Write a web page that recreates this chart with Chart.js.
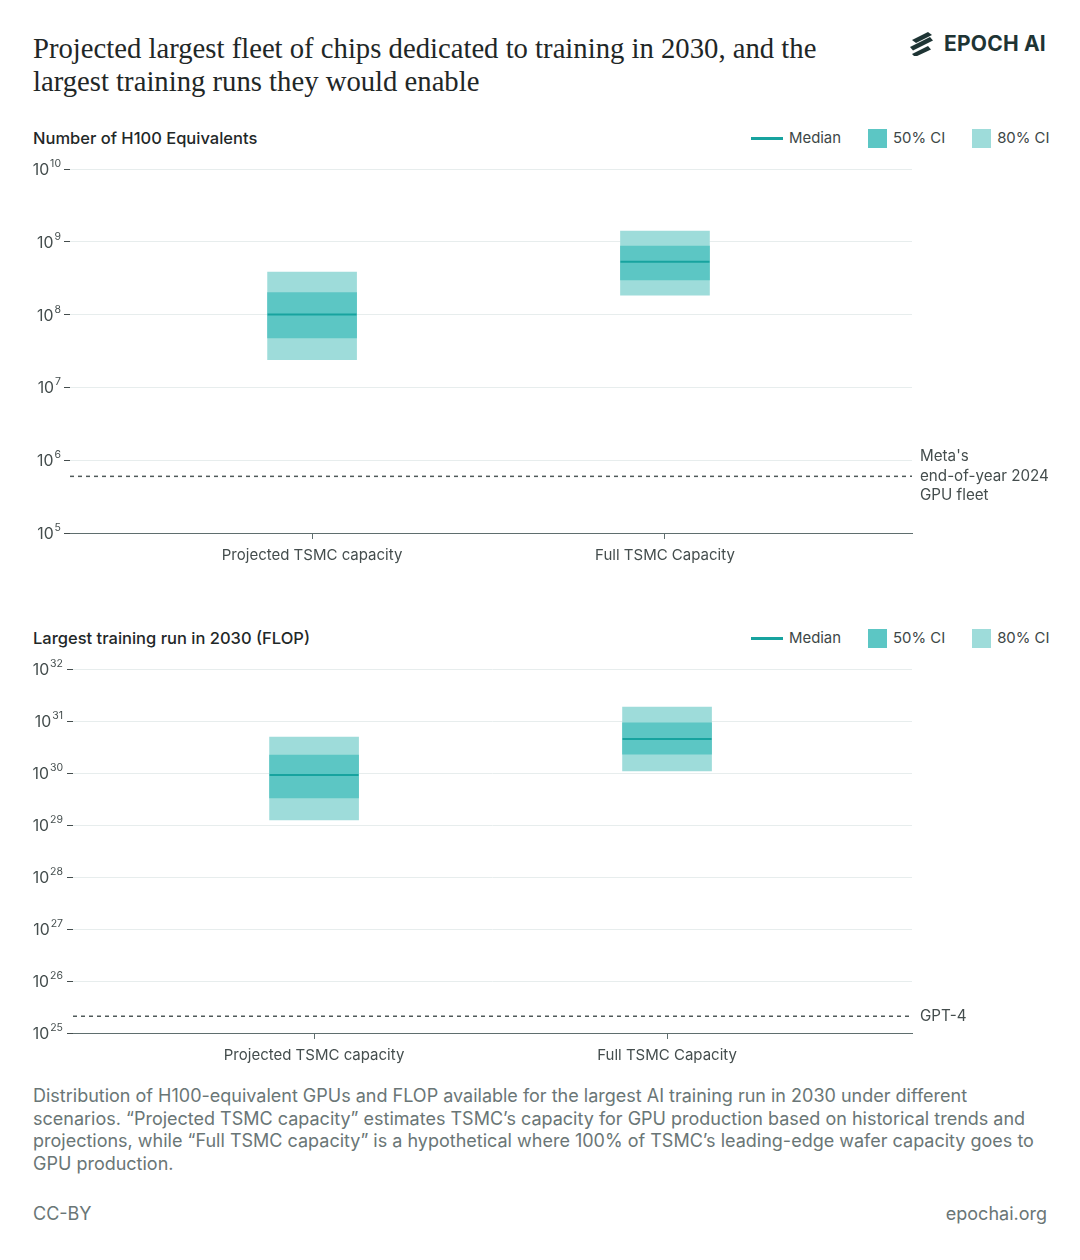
<!DOCTYPE html>
<html>
<head>
<meta charset="utf-8">
<script src="https://cdn.jsdelivr.net/npm/chart.js@4.4.1/dist/chart.umd.min.js"></script>
<style>
  body { margin:0; background:#fff; width:1080px; height:1260px; position:relative; overflow:hidden;
         font-family: Inter, "Noto Sans", sans-serif; color:#2b3333; }
  .abs { position:absolute; }
  #title { left:33px; top:32px; font-family:"Liberation Serif", serif; font-size:28.7px; line-height:33px; color:#1f2727; }
  .sub { left:33px; font-size:16.5px; font-weight:500; color:#1f2828; }
  .legend { left:751px; font-size:14.9px; color:#3d4747; display:flex; align-items:center; height:20px; }
  .legend .ln { width:32px; height:3px; background:#17a39f; margin-right:6px; }
  .legend .sq { width:19px; height:19px; margin-right:6px; }
  .legend .gap { width:27px; }
  .chartbox { left:0; width:1080px; height:430px; }
  #caption { left:33px; top:1085px; font-size:18px; line-height:22.7px; color:#6a7676; }
  .foot { top:1203px; font-size:18px; color:#6a7676; }
  #logo { left:908px; top:31px; display:flex; align-items:center; }
  #logo span { font-size:21px; font-weight:700; color:#1e3434; margin-left:9px; letter-spacing:0.2px; }
</style>
</head>
<body>
<div id="title" class="abs">Projected largest fleet of chips dedicated to training in 2030, and the<br>largest training runs they would enable</div>
<div id="logo" class="abs">
  <svg width="27" height="25" viewBox="0 0 27 25">
    <polygon points="4,9 20,1 24,4 8,12" fill="#1e3434"/>
    <polygon points="2,16 22,6 25,9.5 5,19.5" fill="#1e3434"/>
    <polygon points="4,23 20,15 23,18.5 7,26" fill="#1e3434"/>
  </svg>
  <span>EPOCH AI</span>
</div>

<div class="sub abs" style="top:128px;">Number of H100 Equivalents</div>
<div class="legend abs" style="top:128px;">
  <div class="ln"></div><div>Median</div><div class="gap"></div>
  <div class="sq" style="background:#5cc6c4"></div><div>50% CI</div><div class="gap"></div>
  <div class="sq" style="background:#9edcda"></div><div>80% CI</div>
</div>
<div class="chartbox abs" style="top:150px;"><canvas id="gpuChart"></canvas></div>

<div class="sub abs" style="top:628px;">Largest training run in 2030 (FLOP)</div>
<div class="legend abs" style="top:628px;">
  <div class="ln"></div><div>Median</div><div class="gap"></div>
  <div class="sq" style="background:#5cc6c4"></div><div>50% CI</div><div class="gap"></div>
  <div class="sq" style="background:#9edcda"></div><div>80% CI</div>
</div>
<div class="chartbox abs" style="top:650px;"><canvas id="flopChart"></canvas></div>

<div id="caption" class="abs">Distribution of H100-equivalent GPUs and FLOP available for the largest AI training run in 2030 under different<br>scenarios. “Projected TSMC capacity” estimates TSMC’s capacity for GPU production based on historical trends and<br>projections, while “Full TSMC capacity” is a hypothetical where 100% of TSMC’s leading-edge wafer capacity goes to<br>GPU production.</div>
<div class="foot abs" style="left:33px;">CC-BY</div>
<div class="foot abs" style="right:33px;">epochai.org</div>

<script>
// scenarios (x categories)
var scenarios = ['Projected TSMC capacity', 'Full TSMC Capacity'];

// H100 equivalents
var gpuP10 = [2.4e7, 1.85e8];
var gpuP25 = [4.8e7, 3.0e8];
var gpuMedian = [1.0e8, 5.3e8];
var gpuP75 = [2.0e8, 8.7e8];
var gpuP90 = [3.85e8, 1.4e9];
var metaFleet = 6.0e5;
var gpuTicks = [1e5, 1e6, 1e7, 1e8, 1e9, 1e10];

// training run FLOP
var flopP10 = [1.25e29, 1.1e30];
var flopP25 = [3.3e29, 2.3e30];
var flopMedian = [9.2e29, 4.5e30];
var flopP75 = [2.2e30, 9.2e30];
var flopP90 = [4.9e30, 1.86e31];
var gpt4Flop = 2.1e25;
var flopTicks = [1e25, 1e26, 1e27, 1e28, 1e29, 1e30, 1e31, 1e32];

var C80 = '#9edcda', C50 = '#5cc6c4', CMED = '#17a39f';
var GRID = '#e7eded', AXIS = '#5f6e6e', TXT = '#444d4d';

function band(lo, hi) {
  return lo.map(function(v, i) { return { x: i, y: [v, hi[i]] }; });
}

// draws "10" with a superscript exponent next to each y tick, plus the reference-line note
var decorPlugin = {
  id: 'decor',
  afterDraw: function(chart, args, opts) {
    var ctx = chart.ctx, y = chart.scales.y;
    ctx.save();
    ctx.fillStyle = TXT;
    ctx.textBaseline = 'alphabetic';
    y.ticks.forEach(function(t) {
      var py = y.getPixelForValue(t.value);
      var exp = String(Math.round(Math.log10(t.value)));
      ctx.font = '10.5px Inter, sans-serif';
      var we = ctx.measureText(exp).width;
      ctx.textAlign = 'left';
      ctx.fillText(exp, opts.labelRight - we, py - 2);
      ctx.font = '15.8px Inter, sans-serif';
      ctx.textAlign = 'right';
      ctx.fillText('10', opts.labelRight - we - 1, py + 6);
    });
    var ry = y.getPixelForValue(opts.refValue);
    ctx.font = '15.2px Inter, sans-serif';
    ctx.textAlign = 'left';
    ctx.textBaseline = 'middle';
    var n = opts.refLines.length;
    opts.refLines.forEach(function(line, i) {
      ctx.fillText(line, chart.chartArea.right + 8, ry + (i - (n - 1) / 2) * 19.5);
    });
    ctx.restore();
  }
};

function makeChart(id, p10, p25, med, p75, p90, ref, ticks, xmin, xmax, left, labelRight, refLines) {
  return new Chart(document.getElementById(id), {
    type: 'bar',
    data: {
      datasets: [
        { type: 'scatter', data: med.map(function(v, i) { return { x: i, y: v }; }),
          pointStyle: 'line', pointRadius: 44.5, pointHoverRadius: 44.5, borderColor: CMED, borderWidth: 2, order: 0 },
        { label: '50% CI', data: band(p25, p75), backgroundColor: C50, barThickness: 89, grouped: false, order: 1 },
        { label: '80% CI', data: band(p10, p90), backgroundColor: C80, barThickness: 89, grouped: false, order: 2 },
        { type: 'line', data: [{ x: xmin, y: ref }, { x: xmax, y: ref }], borderColor: '#505a5a',
          borderWidth: 1.5, borderDash: [4, 4], pointRadius: 0, order: 3 }
      ]
    },
    options: {
      responsive: true,
      maintainAspectRatio: false,
      animation: false,
      layout: { autoPadding: false, padding: { top: 19, right: 168, left: 0, bottom: 0 } },
      plugins: {
        legend: { display: false },
        tooltip: { enabled: false },
        decor: { labelRight: labelRight, refValue: ref, refLines: refLines }
      },
      scales: {
        x: {
          type: 'linear', min: xmin, max: xmax, offset: false,
          afterBuildTicks: function(s) { s.ticks = scenarios.map(function(_, i) { return { value: i }; }); },
          afterFit: function(s) { s.height = 47; },
          ticks: { callback: function(v) { return scenarios[v]; }, color: TXT, padding: 7,
                   font: { family: 'Inter', size: 15 }, maxRotation: 0, autoSkip: false },
          grid: { offset: false, drawOnChartArea: false, tickLength: 6, color: AXIS },
          border: { display: true, color: AXIS, width: 1 }
        },
        y: {
          type: 'logarithmic', min: ticks[0], max: ticks[ticks.length - 1],
          afterBuildTicks: function(s) { s.ticks = ticks.map(function(v) { return { value: v }; }); },
          afterFit: function(s) { s.width = left; },
          ticks: { display: false },
          grid: { tickLength: 6, tickColor: TXT,
                  color: function(c) { return c.tick && c.tick.value === ticks[0] ? AXIS : GRID; } },
          border: { display: false }
        }
      }
    },
    plugins: [decorPlugin]
  });
}

makeChart('gpuChart', gpuP10, gpuP25, gpuMedian, gpuP75, gpuP90, metaFleet, gpuTicks,
  -0.686, 1.70, 70, 61, ["Meta's", 'end-of-year 2024', 'GPU fleet']);
makeChart('flopChart', flopP10, flopP25, flopMedian, flopP75, flopP90, gpt4Flop, flopTicks,
  -0.683, 1.694, 73, 63, ['GPT-4']);
</script>
</body>
</html>
